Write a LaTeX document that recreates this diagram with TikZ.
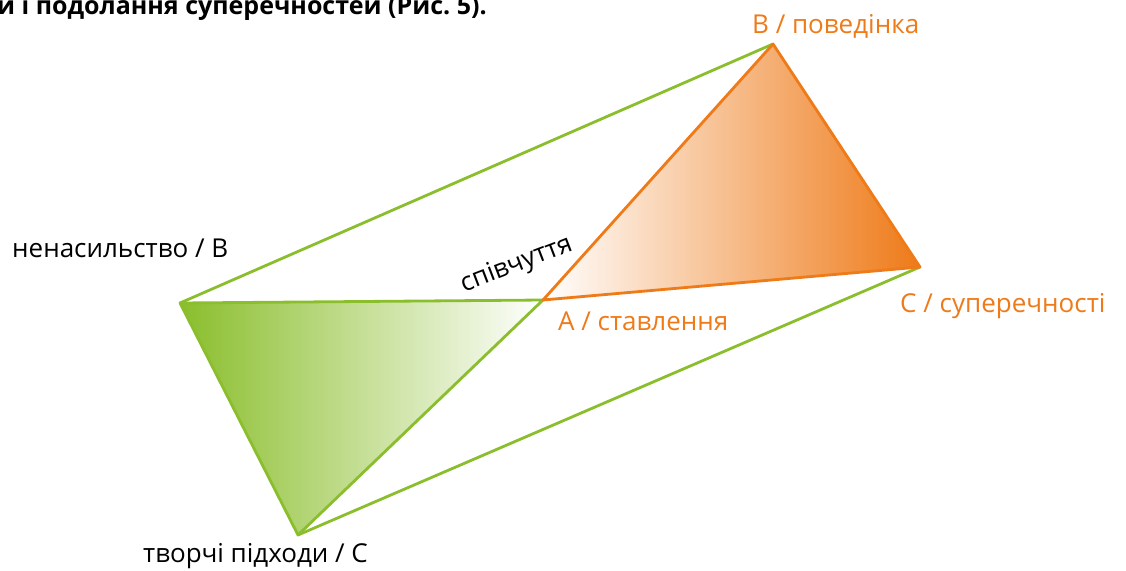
\documentclass[tikz,border=0pt]{standalone}
\usepackage{fontspec}
\setmainfont{Open Sans}
\usetikzlibrary{positioning}
\definecolor{leafgreen}{RGB}{138,190,44}
\definecolor{warmorange}{RGB}{238,122,24}

\begin{document}
\begin{tikzpicture}[
    x=1pt, y=-1pt,
    green edge/.style={draw=leafgreen, line width=2.8pt, line join=round},
    orange edge/.style={draw=warmorange, line width=2.8pt, line join=round},
    vertex label/.style={anchor=base west, inner sep=0pt, font=\fontsize{26}{30}\selectfont},
    orange label/.style={vertex label, text=warmorange}
]
    \clip (0,0) rectangle (1126,570);

    % Vertices
    \coordinate (A) at (543,300);
    \coordinate (B) at (773,44);
    \coordinate (C) at (920,267);
    \coordinate (nv) at (180,303);
    \coordinate (tp) at (298,535);

    % Shaded triangles
    \shade[left color=leafgreen, right color=white] (nv) -- (A) -- (tp) -- cycle;
    \shade[left color=white, right color=warmorange] (A) -- (B) -- (C) -- cycle;

    % Edges
    \draw[green edge] (nv) -- (B);
    \draw[green edge] (tp) -- (C);
    \draw[green edge] (nv) -- (A) -- (tp) -- cycle;
    \draw[orange edge] (A) -- (B) -- (C) -- cycle;

    % Labels
    \node[anchor=base west, inner sep=0pt, font=\fontsize{25}{29}\selectfont\bfseries] (title) at (-3,14) {и і подолання суперечностей (Рис.~5).};
    \node[orange label] (lB) at (752,33) {В / поведінка};
    \node[vertex label] (lnv) at (12,257) {ненасильство / В};
    \node[orange label] (lA) at (558,330) {А / ставлення};
    \node[orange label] (lC) at (900,312) {С / суперечності};
    \node[vertex label] (ltp) at (143,562) {творчі підходи / С};
    \node[anchor=base, inner sep=0pt, rotate=21, font=\fontsize{26}{30}\selectfont] (sp) at (519,271) {співчуття};
\end{tikzpicture}
\end{document}
